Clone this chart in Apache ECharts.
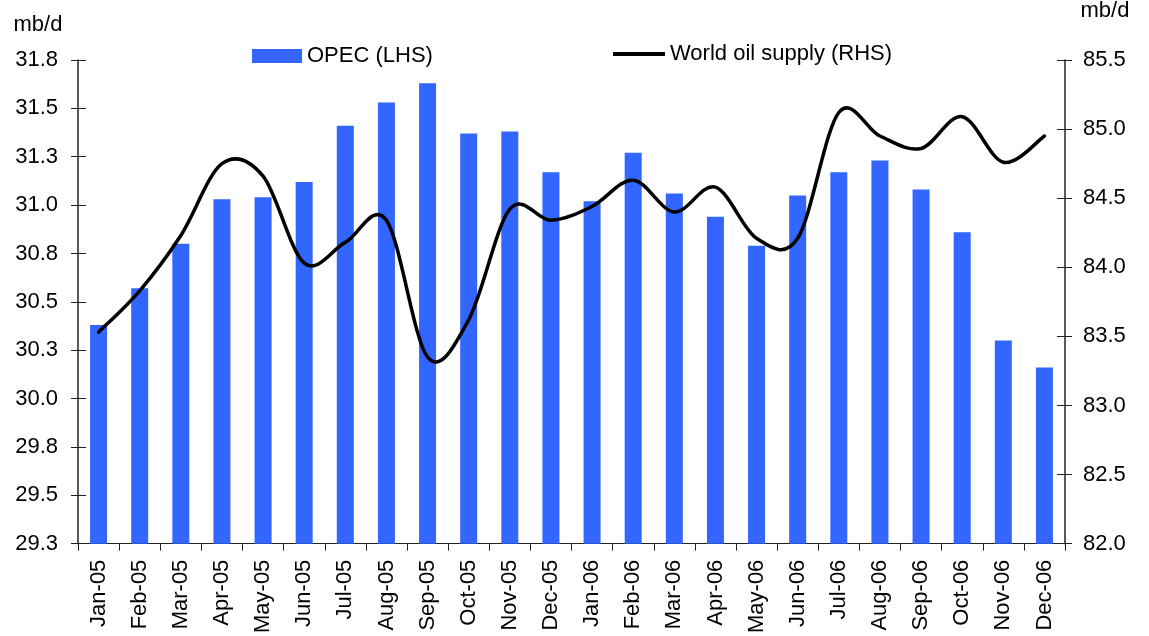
<!DOCTYPE html>
<html>
<head>
<meta charset="utf-8">
<script src="https://cdn.jsdelivr.net/npm/echarts@6/dist/echarts.min.js"></script>
<style>
html,body{margin:0;padding:0;background:#fff;}
#chart{width:1149px;height:636px;}
</style>
</head>
<body>
<div id="chart"></div>
<script>
const categories = ['Jan-05','Feb-05','Mar-05','Apr-05','May-05','Jun-05','Jul-05','Aug-05','Sep-05','Oct-05','Nov-05','Dec-05',
  'Jan-06','Feb-06','Mar-06','Apr-06','May-06','Jun-06','Jul-06','Aug-06','Sep-06','Oct-06','Nov-06','Dec-06'];
const opec = [30.38,30.57,30.80,31.03,31.04,31.12,31.41,31.53,31.63,31.37,31.38,31.17,
  31.02,31.27,31.06,30.94,30.79,31.05,31.17,31.23,31.08,30.86,30.30,30.16];
const worldSupply = [83.53,83.83,84.23,84.75,84.66,84.03,84.18,84.34,83.35,83.62,84.42,84.34,
  84.44,84.63,84.40,84.58,84.21,84.21,85.12,84.95,84.86,85.09,84.76,84.95];
const leftTickLabels = ['29.3','29.5','29.8','30.0','30.3','30.5','30.8','31.0','31.3','31.5','31.8'];
const rightTickLabels = ['82.0','82.5','83.0','83.5','84.0','84.5','85.0','85.5'];
const leftMin = 29.25, leftMax = 31.75, leftStep = 0.25;
const rightMin = 82.0, rightMax = 85.5, rightStep = 0.5;

const FONT = 'Liberation Sans, Arial, sans-serif';
const FS = 22;
const AX = '#222';

// Smoothed line (Catmull-Rom style, like a spreadsheet "smoothed line"), drawn through
// the pixel positions that the chart's own axes give for each data value.
function renderSmoothLine(params, api) {
  if (params.dataIndex !== 0) return null;
  const pts = worldSupply.map((v, i) => api.coord([i, v]));
  let d = 'M' + pts[0][0] + ' ' + pts[0][1];
  for (let i = 0; i < pts.length - 1; i++) {
    const p0 = pts[Math.max(i - 1, 0)], p1 = pts[i], p2 = pts[i + 1], p3 = pts[Math.min(i + 2, pts.length - 1)];
    const c1x = p1[0] + (p2[0] - p0[0]) / 6, c1y = p1[1] + (p2[1] - p0[1]) / 6;
    const c2x = p2[0] - (p3[0] - p1[0]) / 6, c2y = p2[1] - (p3[1] - p1[1]) / 6;
    d += ' C' + c1x + ' ' + c1y + ' ' + c2x + ' ' + c2y + ' ' + p2[0] + ' ' + p2[1];
  }
  return {
    type: 'path',
    shape: { pathData: d },
    style: { stroke: '#000', lineWidth: 3.5, fill: null, lineJoin: 'round', lineCap: 'round' },
    silent: true
  };
}

const chart = echarts.init(document.getElementById('chart'));
chart.setOption({
  animation: false,
  backgroundColor: '#fff',
  textStyle: { fontFamily: FONT, color: '#000' },
  grid: { left: 78, right: 84, top: 58, bottom: 92, containLabel: false },
  legend: [
    {
      data: [{ name: 'OPEC (LHS)', icon: 'rect' }],
      left: 247, top: 39, itemWidth: 50, itemHeight: 14, itemGap: 6,
      textStyle: { fontFamily: FONT, fontSize: FS, color: '#000', lineHeight: 24 },
      selectedMode: false
    },
    {
      data: [{ name: 'World oil supply (RHS)', icon: 'rect', itemStyle: { color: '#000' } }],
      left: 608, top: 37, itemWidth: 52, itemHeight: 4, itemGap: 6,
      textStyle: { fontFamily: FONT, fontSize: FS, color: '#000', lineHeight: 24 },
      selectedMode: false
    }
  ],
  xAxis: {
    type: 'category',
    data: categories,
    boundaryGap: true,
    axisLine: { lineStyle: { color: AX, width: 1 } },
    axisTick: { show: true, alignWithLabel: false, length: 7, lineStyle: { color: AX } },
    axisLabel: { rotate: 90, fontFamily: FONT, fontSize: FS, color: '#000', margin: 16, interval: 0 }
  },
  yAxis: [
    {
      type: 'value', position: 'left', min: leftMin, max: leftMax, interval: leftStep,
      name: 'mb/d', nameLocation: 'end', nameGap: 0,
      nameTextStyle: { fontFamily: FONT, fontSize: FS, color: '#000', align: 'center', padding: [0, 0, 24, -80] },
      axisLine: { show: true, lineStyle: { color: AX, width: 1.5 } },
      axisTick: { show: true, length: 7, lineStyle: { color: AX } },
      splitLine: { show: false },
      axisLabel: {
        fontFamily: FONT, fontSize: FS, color: '#000', margin: 20,
        formatter: v => leftTickLabels[Math.round((v - leftMin) / leftStep)]
      }
    },
    {
      type: 'value', position: 'right', min: rightMin, max: rightMax, interval: rightStep,
      name: 'mb/d', nameLocation: 'end', nameGap: 0,
      nameTextStyle: { fontFamily: FONT, fontSize: FS, color: '#000', align: 'center', padding: [0, 0, 38, 80] },
      axisLine: { show: true, lineStyle: { color: AX, width: 1.5 } },
      axisTick: { show: true, length: 7, lineStyle: { color: AX } },
      splitLine: { show: false },
      axisLabel: {
        fontFamily: FONT, fontSize: FS, color: '#000', margin: 18,
        formatter: v => rightTickLabels[Math.round((v - rightMin) / rightStep)]
      }
    },
    {
      type: 'value', position: 'left', min: leftMin, max: leftMax, interval: leftStep,
      axisLine: { show: false }, axisLabel: { show: false }, splitLine: { show: false },
      axisTick: { show: true, inside: true, length: 8, lineStyle: { color: AX } }
    },
    {
      type: 'value', position: 'right', min: rightMin, max: rightMax, interval: rightStep,
      axisLine: { show: false }, axisLabel: { show: false }, splitLine: { show: false },
      axisTick: { show: true, inside: true, length: 8, lineStyle: { color: AX } }
    }
  ],
  series: [
    {
      name: 'OPEC (LHS)', type: 'bar', yAxisIndex: 0, data: opec,
      barWidth: 17, itemStyle: { color: '#3366FF' }
    },
    {
      name: 'World oil supply (RHS)', type: 'custom', yAxisIndex: 1,
      data: worldSupply.map((v, i) => [i, v]),
      encode: { x: 0, y: 1 },
      renderItem: renderSmoothLine,
      itemStyle: { color: '#000' }, z: 5, clip: false
    }
  ]
});
</script>
</body>
</html>
